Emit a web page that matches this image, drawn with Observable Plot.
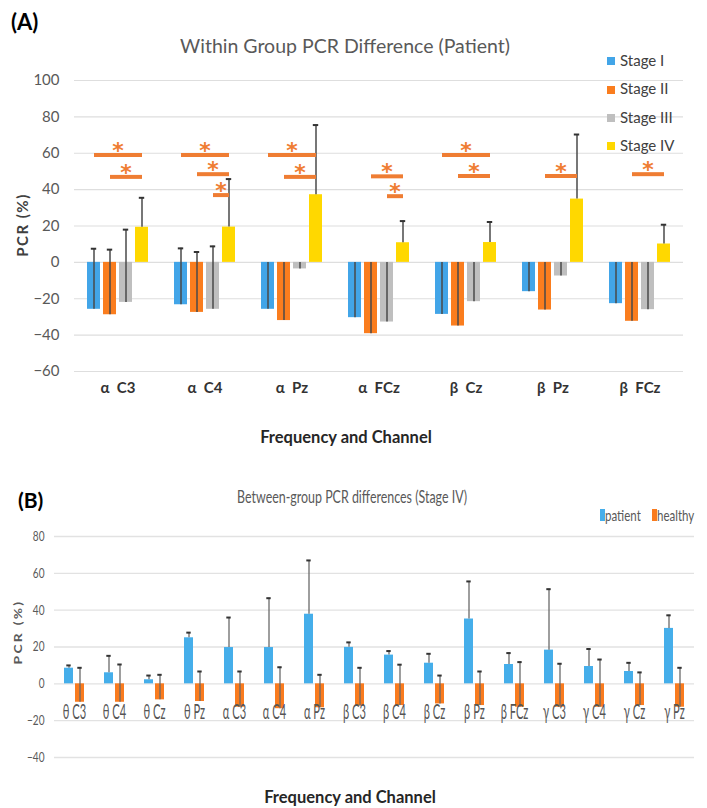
<!DOCTYPE html>
<html>
<head>
<meta charset="utf-8">
<script src="https://cdn.jsdelivr.net/npm/d3@7"></script>
<script src="https://cdn.jsdelivr.net/npm/@observablehq/plot@0.6"></script>
<style>
  body { margin: 0; background: #fff; }
  #wrap { position: relative; width: 707px; height: 808px; overflow: hidden; font-family: Lato, "Open Sans", sans-serif; }
  .abs { position: absolute; white-space: nowrap; }
  #chartA { position: absolute; left: 0; top: 0; }
  #chartB { position: absolute; left: 0; top: 460px; }
  #chartA svg g[aria-label*="fx-axis"] text { font-weight: bold; fill: #333; }
  .c { display: inline-block; transform-origin: center center; }
</style>
</head>
<body>
<div id="wrap">
  <div id="chartA"></div>
  <div id="chartB"></div>
</div>
<script>
// ---------- Panel A data ----------
const stages = ["Stage I", "Stage II", "Stage III", "Stage IV"];
const stageColors = ["#42A5E8", "#FA7D1E", "#BFBFBF", "#FFD800"];
const catsA = ["α  C3", "α  C4", "α  Pz", "α  FCz", "β  Cz", "β  Pz", "β  FCz"];
const stage1 = [-25.8, -23.3, -25.8, -30.4, -28.6, -16.1, -22.7];
const stage2 = [-28.8, -27.5, -32.0, -39.2, -35.0, -26.2, -32.4];
const stage3 = [-22.0, -25.8, -3.6, -32.8, -21.6, -7.5, -26.0];
const stage4 = [19.3, 19.4, 37.2, 10.8, 10.9, 34.8, 10.1];
const err1 = [33.3, 31.0, 25.8, 30.4, 28.6, 16.1, 22.7];
const err2 = [35.8, 33.2, 32.0, 39.2, 35.0, 26.2, 32.4];
const err3 = [40.0, 34.6, 3.6, 32.8, 21.6, 7.5, 26.0];
const err4 = [16.2, 26.4, 38.3, 11.9, 11.3, 35.5, 10.6];
const yTicksA = [-60, -40, -20, 0, 20, 40, 60, 80, 100];
// significance brackets (from stage -> Stage IV)
const sigCat  = ["α  C3", "α  C3", "α  C4", "α  C4", "α  C4", "α  Pz", "α  Pz", "α  FCz", "α  FCz", "β  Cz", "β  Cz", "β  Pz", "β  FCz"];
const sigFrom = ["Stage I", "Stage II", "Stage I", "Stage II", "Stage III", "Stage I", "Stage II", "Stage II", "Stage III", "Stage I", "Stage II", "Stage II", "Stage II"];
const sigY    = [59, 47, 59, 48.5, 37, 59, 47, 47.3, 36.4, 59, 47.5, 47.5, 48.5];

// ---------- Panel B data ----------
const groups = ["patient", "healthy"];
const groupColors = ["#45AEEA", "#F97B1E"];
const catsB = ["θ C3", "θ C4", "θ Cz", "θ Pz", "α C3", "α C4", "α Pz", "β C3", "β C4", "β Cz", "β Pz", "β FCz", "γ C3", "γ C4", "γ Cz", "γ Pz"];
const patient = [8.5, 6.0, 2.2, 25.0, 19.7, 19.7, 37.8, 19.8, 15.6, 11.2, 35.2, 10.5, 18.3, 9.4, 6.7, 30.1];
const patientErr = [1.5, 9.2, 2.3, 2.8, 16.3, 26.8, 29.2, 2.7, 2.2, 5.1, 20.4, 6.2, 33.1, 9.5, 4.7, 7.1];
const healthy = [-10.0, -10.0, -8.7, -9.6, -12.7, -13.5, -13.0, -12.0, -11.8, -10.9, -11.8, -12.7, -12.7, -12.7, -11.8, -12.7];
const healthyErr = [18.7, 20.5, 13.6, 16.3, 19.4, 22.5, 17.9, 20.7, 22.2, 15.4, 18.5, 24.5, 23.6, 25.9, 18.0, 21.4];
const yTicksB = [-40, -20, 0, 20, 40, 60, 80];

// ---------- build tables ----------
const stageVals = [stage1, stage2, stage3, stage4];
const stageErrs = [err1, err2, err3, err4];
const rowsA = [];
catsA.forEach((c, i) => stages.forEach((s, j) => rowsA.push({cat: c, stage: s, value: stageVals[j][i], err: stageErrs[j][i]})));
const sig = sigCat.map((c, i) => ({cat: c, from: sigFrom[i], y: sigY[i], span: 3 - stages.indexOf(sigFrom[i])}));

const rowsB = [];
catsB.forEach((c, i) => {
  rowsB.push({cat: c, group: "patient", value: patient[i], err: patientErr[i]});
  rowsB.push({cat: c, group: "healthy", value: healthy[i], err: healthyErr[i]});
});

const sigColor = "#EF7D33";
const stepA = 16; // band step inside a facet (px), used to centre the asterisks

const plotA = Plot.plot({
  width: 707, height: 460,
  marginTop: 80, marginBottom: 89, marginLeft: 74, marginRight: 24,
  style: {fontFamily: "Lato, 'Open Sans', sans-serif", fontSize: "15px", color: "#595959", background: "transparent", overflow: "visible"},
  fx: {domain: catsA, padding: 0, label: null, tickSize: 0, tickPadding: 11},
  x: {domain: stages, paddingInner: 0.1875, paddingOuter: 0.8125, axis: null},
  y: {domain: [-60, 100], ticks: yTicksA, tickSize: 0, tickPadding: 15, label: null},
  color: {domain: stages, range: stageColors},
  marks: [
    Plot.ruleY(yTicksA, {stroke: "#dedede", strokeWidth: 1.2}),
    Plot.barY(rowsA, {fx: "cat", x: "stage", y: "value", fill: "stage"}),
    Plot.ruleX(rowsA, {fx: "cat", x: "stage", y1: "value", y2: d => d.value + d.err, stroke: "#4a4a4a", strokeWidth: 1.5}),
    Plot.tickY(rowsA.filter(d => d.value + d.err > 1), {fx: "cat", x: "stage", y: d => d.value + d.err, stroke: "#333", strokeWidth: 2, insetLeft: 3.8, insetRight: 3.8}),
    Plot.link(sig, {fx: "cat", x1: "from", x2: () => "Stage IV", y1: "y", y2: "y", stroke: sigColor, strokeWidth: 4}),
    ...[1, 2, 3].map(s => Plot.text(sig.filter(d => d.span === s), {
      fx: "cat", x: "from", y: "y", text: () => "*", dx: s * stepA / 2, dy: -4,
      lineAnchor: "middle", fill: sigColor, fontSize: 22, fontFamily: "'DejaVu Sans', sans-serif", fontWeight: "bold"
    }))
  ]
});
document.getElementById("chartA").appendChild(plotA);

const plotB = Plot.plot({
  width: 707, height: 348,
  marginTop: 76, marginBottom: 51, marginLeft: 53, marginRight: 12,
  style: {fontFamily: "Lato, 'Open Sans', sans-serif", fontSize: "14px", color: "#595959", background: "transparent", overflow: "visible"},
  fx: {domain: catsB, padding: 0, axis: null},
  x: {domain: groups, paddingInner: 0.174, paddingOuter: 0.83, axis: null},
  y: {domain: [-40, 80], ticks: yTicksB, tickSize: 0, tickPadding: 10, label: null},
  color: {domain: groups, range: groupColors},
  marks: [
    Plot.ruleY(yTicksB, {stroke: "#e2e2e2", strokeWidth: 1.4}),
    Plot.barY(rowsB, {fx: "cat", x: "group", y: "value", fill: "group"}),
    Plot.ruleX(rowsB, {fx: "cat", x: "group", y1: "value", y2: d => d.value + d.err, stroke: "#6a6a6a", strokeWidth: 1.3}),
    Plot.tickY(rowsB, {fx: "cat", x: "group", y: d => d.value + d.err, stroke: "#333", strokeWidth: 2, insetLeft: 2.3, insetRight: 2.3}),
    Plot.text(catsB, {fx: d => d, y: () => 0, text: d => d, dy: 28, lineAnchor: "middle", fontSize: 21, fill: "#555"})
  ]
});
document.getElementById("chartB").appendChild(plotB);

// horizontal condensing of panel B texts (narrow font look)
function condense(nodes, s) {
  nodes.forEach(t => {
    const x = parseFloat(t.getAttribute("x") || 0);
    const tr = t.getAttribute("transform") || "";
    t.setAttribute("transform", `${tr} translate(${x},0) scale(${s},1) translate(${-x},0)`);
  });
}
condense(plotB.querySelectorAll('g[aria-label*="y-axis"] text'), 0.72);
condense(plotB.querySelectorAll('g[aria-label="text"] text'), 0.53);

// ---------- HTML annotations ----------
const wrap = document.getElementById("wrap");
function addDiv(html, css) {
  const d = document.createElement("div");
  d.className = "abs";
  d.innerHTML = html;
  d.style.cssText += css;
  wrap.appendChild(d);
  return d;
}
addDiv("(A)", "left:11px;top:9px;font-size:22px;font-weight:bold;color:#000;line-height:26px;");
addDiv("Within Group PCR Difference (Patient)", "left:345px;top:46px;transform:translate(-50%,-50%);font-size:19.5px;color:#595959;line-height:22px;");
addDiv("PCR (%)", "left:22px;top:225px;transform:translate(-50%,-50%) rotate(-90deg);font-size:15px;font-weight:bold;letter-spacing:1.5px;color:#404040;line-height:18px;");
addDiv("Frequency and Channel", "left:346px;top:437px;transform:translate(-50%,-50%);font-size:16.5px;font-weight:bold;color:#262626;line-height:20px;");
stages.forEach((s, i) => {
  addDiv(`<span style="display:inline-block;width:8px;height:8px;background:${stageColors[i]};margin-right:5px;vertical-align:middle;position:relative;top:-1px"></span>${s}`,
    `left:607px;top:${60 + i * 28.3 - 9}px;font-size:15px;color:#404040;line-height:18px;`);
});

addDiv("(B)", "left:18px;top:487px;font-size:21px;font-weight:bold;color:#000;line-height:26px;");
addDiv('<span class="c" style="transform:scaleX(0.71)">Between-group PCR differences (Stage IV)</span>', "left:352px;top:497px;transform:translate(-50%,-50%);font-size:17.5px;color:#595959;line-height:22px;");
addDiv('<span class="c" style="transform:scaleX(1.15)">PCR (%)</span>', "left:18px;top:632px;transform:translate(-50%,-50%) rotate(-90deg);font-size:12px;font-weight:bold;letter-spacing:2px;color:#595959;line-height:16px;");
addDiv("Frequency and Channel", "left:350px;top:797px;transform:translate(-50%,-50%);font-size:16.5px;font-weight:bold;color:#262626;line-height:20px;");
const legB = [[600, 605], [652, 657]];
groups.forEach((g, i) => {
  addDiv(`<span style="position:absolute;left:0;top:3px;width:5px;height:12px;background:${groupColors[i]}"></span>`, `left:${legB[i][0]}px;top:506px;width:5px;height:18px;`);
  addDiv(`<span class="c" style="transform:scaleX(0.72);transform-origin:left center">${g}</span>`, `left:${legB[i][1]}px;top:506px;font-size:16px;color:#595959;line-height:18px;`);
});
</script>
</body>
</html>
